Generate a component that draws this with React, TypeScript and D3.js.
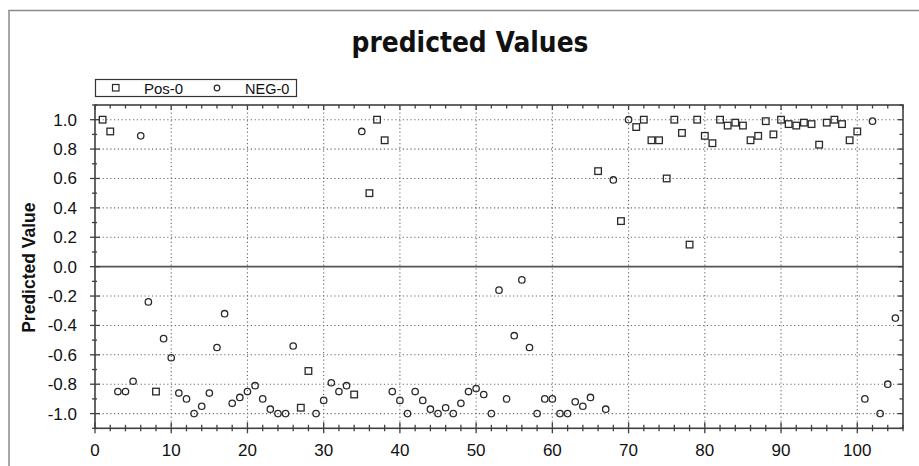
import * as d3 from "d3"

// Pos-0 series (squares)
const posX = [1, 2, 8, 27, 28, 34, 36, 37, 38, 66, 69, 71, 72, 73, 74, 75, 76, 77, 78, 79, 80, 81, 82, 83, 84, 85, 86, 87, 88, 89, 90, 91, 92, 93, 94, 95, 96, 97, 98, 99, 100]
const posY = [1.0, 0.92, -0.85, -0.96, -0.71, -0.87, 0.5, 1.0, 0.86, 0.65, 0.31, 0.95, 1.0, 0.86, 0.86, 0.6, 1.0, 0.91, 0.15, 1.0, 0.89, 0.84, 1.0, 0.96, 0.98, 0.96, 0.86, 0.89, 0.99, 0.9, 1.0, 0.97, 0.96, 0.98, 0.97, 0.83, 0.98, 1.0, 0.97, 0.86, 0.92]

// NEG-0 series (circles)
const negX = [3, 4, 5, 6, 7, 9, 10, 11, 12, 13, 14, 15, 16, 17, 18, 19, 20, 21, 22, 23, 24, 25, 26, 29, 30, 31, 32, 33, 35, 39, 40, 41, 42, 43, 44, 45, 46, 47, 48, 49, 50, 51, 52, 53, 54, 55, 56, 57, 58, 59, 60, 61, 62, 63, 64, 65, 67, 68, 70, 101, 102, 103, 104, 105]
const negY = [-0.85, -0.85, -0.78, 0.89, -0.24, -0.49, -0.62, -0.86, -0.9, -1.0, -0.95, -0.86, -0.55, -0.32, -0.93, -0.89, -0.85, -0.81, -0.9, -0.97, -1.0, -1.0, -0.54, -1.0, -0.91, -0.79, -0.85, -0.81, 0.92, -0.85, -0.91, -1.0, -0.85, -0.91, -0.97, -1.0, -0.96, -1.0, -0.93, -0.85, -0.83, -0.87, -1.0, -0.16, -0.9, -0.47, -0.09, -0.55, -1.0, -0.9, -0.9, -1.0, -1.0, -0.92, -0.95, -0.89, -0.97, 0.59, 1.0, -0.9, 0.99, -1.0, -0.8, -0.35]

const xMajor = [0, 10, 20, 30, 40, 50, 60, 70, 80, 90, 100]
const yMajor = [-1.0, -0.8, -0.6, -0.4, -0.2, 0.0, 0.2, 0.4, 0.6, 0.8, 1.0]

const title = "predicted Values"
const yTitle = "Predicted Value"
const seriesNames = ["Pos-0", "NEG-0"]

export default function App() {
    const width = 919
    const height = 466
    const left = 95
    const right = 903
    const top = 105
    const bottom = 428.3

    const x = d3.scaleLinear().domain([0, 106]).range([left, right])
    const y = d3.scaleLinear().domain([-1.1, 1.1]).range([bottom, top])

    const xMinor = d3.range(0, 107, 2)
    const yMinor = d3.range(-11, 12).map((d) => d / 10)

    const axisColor = "#404040"
    const markColor = "#2a2a2a"
    const font = "'Liberation Sans', Arial, sans-serif"

    return (
        <svg
            width={width}
            height={height}
            style={{ position: "absolute", left: 0, top: 0, background: "#fff" }}
        >
            <rect x={0} y={0} width={width} height={height} fill="#fff" />
            {/* outer frame */}
            <rect x={9} y={10.5} width={940} height={480} fill="none" stroke="#8a8a8a" strokeWidth={1.5} />

            <text
                x={470}
                y={51.5}
                textAnchor="middle"
                fontFamily="'DejaVu Sans', Verdana, sans-serif"
                fontWeight="bold"
                fontSize={28}
                textLength={237}
                lengthAdjust="spacingAndGlyphs"
                fill="#111"
            >
                {title}
            </text>

            {/* legend */}
            <rect x={95.5} y={79.5} width={201} height={17} fill="#fff" stroke="#333" strokeWidth={1.2} />
            <rect x={112.5} y={84.5} width={6.5} height={6.5} fill="none" stroke={markColor} strokeWidth={1.2} />
            <text x={144} y={93.8} fontFamily={font} fontSize={15} fill="#111">{seriesNames[0]}</text>
            <circle cx={217} cy={88} r={2.8} fill="none" stroke={markColor} strokeWidth={1.2} />
            <text x={245} y={93.8} fontFamily={font} fontSize={14.5} fill="#111">{seriesNames[1]}</text>

            {/* grid */}
            {xMajor.filter((d) => d > 0).map((d) => (
                <line key={"gx" + d} x1={x(d)} x2={x(d)} y1={top} y2={bottom}
                    stroke="#6a6a6a" strokeWidth={1.1} strokeDasharray="1.2,2.6" />
            ))}
            {yMajor.filter((d) => d !== 0).map((d) => (
                <line key={"gy" + d} x1={left} x2={right} y1={y(d)} y2={y(d)}
                    stroke="#6a6a6a" strokeWidth={1.1} strokeDasharray="1.2,2.6" />
            ))}
            <line x1={left} x2={right} y1={y(0)} y2={y(0)} stroke="#555" strokeWidth={1.6} />

            {/* axes box */}
            <rect x={left} y={top} width={right - left} height={bottom - top} fill="none" stroke={axisColor} strokeWidth={1.6} />

            {/* bottom ticks */}
            {xMinor.map((d) => {
                const major = d % 10 === 0
                return (
                    <line key={"xb" + d} x1={x(d)} x2={x(d)}
                        y1={bottom - (major ? 6 : 3.5)} y2={bottom + (major ? 5 : 3)}
                        stroke={axisColor} strokeWidth={1.3} />
                )
            })}
            {/* top ticks */}
            {xMinor.map((d) => (
                <line key={"xt" + d} x1={x(d)} x2={x(d)} y1={top} y2={top + (d % 10 === 0 ? 5 : 3.5)}
                    stroke={axisColor} strokeWidth={1.3} />
            ))}
            {/* left ticks */}
            {yMinor.map((d, i) => {
                const major = i % 2 === 1
                return (
                    <line key={"yl" + i} x1={left - (major ? 5 : 3)} x2={left + (major ? 5 : 2)}
                        y1={y(d)} y2={y(d)} stroke={axisColor} strokeWidth={1.3} />
                )
            })}
            {/* right ticks */}
            {yMinor.map((d, i) => (
                <line key={"yr" + i} x1={right - (i % 2 === 1 ? 5 : 3.5)} x2={right}
                    y1={y(d)} y2={y(d)} stroke={axisColor} strokeWidth={1.3} />
            ))}

            {xMajor.map((d) => (
                <text key={"xl" + d} x={x(d)} y={456} textAnchor="middle" fontFamily={font} fontSize={17} fill="#111">
                    {d}
                </text>
            ))}
            {yMajor.map((d) => (
                <text key={"yl" + d} x={77} y={y(d) + 6} textAnchor="end" fontFamily={font} fontSize={17} fill="#111">
                    {d.toFixed(1)}
                </text>
            ))}

            <text
                transform={`translate(35,${(top + bottom) / 2 + 1}) rotate(-90)`}
                textAnchor="middle"
                fontFamily={font}
                fontWeight="bold"
                fontSize={17.5}
                fill="#111"
            >
                {yTitle}
            </text>

            {/* points */}
            {posX.map((d, i) => (
                <rect key={"p" + i} x={x(d) - 3.3} y={y(posY[i]) - 3.3} width={6.6} height={6.6}
                    fill="none" stroke={markColor} strokeWidth={1.3} />
            ))}
            {negX.map((d, i) => (
                <circle key={"n" + i} cx={x(d)} cy={y(negY[i])} r={3.2} fill="none" stroke={markColor} strokeWidth={1.3} />
            ))}
        </svg>
    )
}
